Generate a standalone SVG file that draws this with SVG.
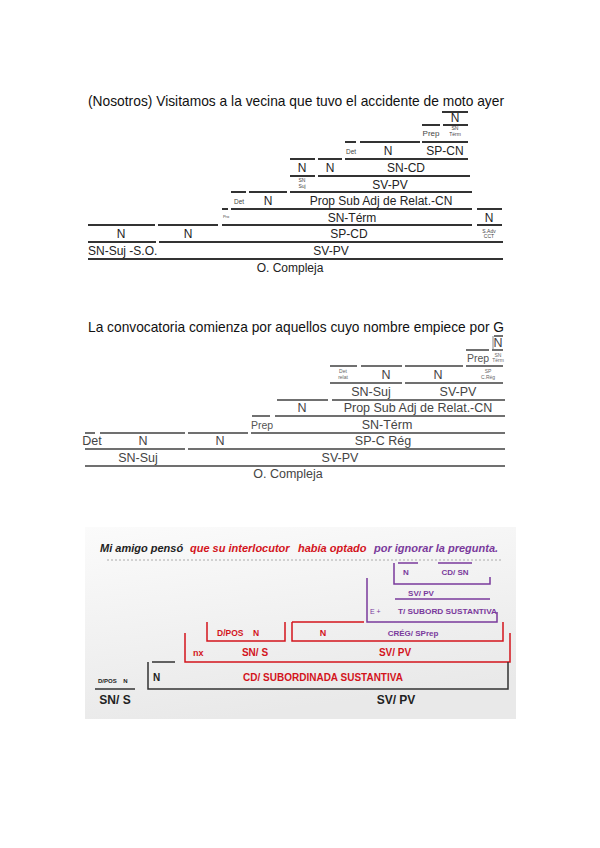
<svg xmlns="http://www.w3.org/2000/svg" width="600" height="848" viewBox="0 0 600 848">
<defs>
<linearGradient id="bg3" x1="0" y1="0" x2="0.3" y2="1">
<stop offset="0" stop-color="#fbfbfb"/>
<stop offset="1" stop-color="#e9e9e9"/>
</linearGradient>
<style>
text{font-family:"Liberation Sans",Arial,sans-serif}
.ti{font-size:15px;fill:#111}
.l1{font-size:12px;fill:#222;text-anchor:middle}
.s1{font-size:8px;fill:#444;text-anchor:middle}
.x1{font-size:5px;fill:#444;text-anchor:middle}
.l2{font-size:12.5px;fill:#444;text-anchor:middle}
.s2{font-size:10.5px;fill:#555;text-anchor:middle}
.x2{font-size:5px;fill:#666;text-anchor:middle}
.k1{stroke:#333;stroke-width:2;fill:none}
.k2{stroke:#707070;stroke-width:2;fill:none}
.t3{font-size:11px;font-weight:bold;font-style:italic}
.b3{font-weight:bold}
.red{fill:#d3141c}
.pur{fill:#7a3a9c}
.blk{fill:#222}
.rl{stroke:#d3141c;stroke-width:1.5;fill:none}
.pl{stroke:#7a3a9c;stroke-width:1.5;fill:none}
.dl{stroke:#333;stroke-width:1.5;fill:none}
</style>
</defs>
<rect width="600" height="848" fill="#fff"/>

<!-- Panel 1 -->
<g id="panel1">
<text class="ti" x="88" y="106" textLength="416" lengthAdjust="spacingAndGlyphs">(Nosotros) Visitamos a la vecina que tuvo el accidente de moto ayer</text>
<g id="p1-connectors">
<path class="k1" d="M442 112H468 M422 125H440 M443 125H468 M345 142H356 M360 142H420 M422 142H468 M290 159H315 M318 159H342 M345 159H468 M290 176H315 M318 176H470 M231 192H246 M249 192H287 M290 192H472 M222 209H228 M231 209H472 M477 209H502 M88 225H155 M158 225H218 M222 225H472 M477 225H502 M88 242H156 M159 242H503 M88 259H503"/>
</g>
<g id="p1-r1"><text class="l1" x="455" y="122">N</text></g>
<g id="p1-r2"><text class="s1" x="431" y="136">Prep</text><text class="x1" x="455" y="130">SN</text><text class="x1" x="455" y="136">Térm</text></g>
<g id="p1-r3"><text class="s1" x="351" y="154" style="font-size:6.5px">Det</text><text class="l1" x="388" y="155">N</text><text class="l1" x="445" y="155">SP-CN</text></g>
<g id="p1-r4"><text class="l1" x="302" y="172">N</text><text class="l1" x="330" y="172">N</text><text class="l1" x="406" y="172">SN-CD</text></g>
<g id="p1-r5"><text class="x1" x="302" y="182">SN</text><text class="x1" x="302" y="188">Suj</text><text class="l1" x="390" y="189">SV-PV</text></g>
<g id="p1-r6"><text class="s1" x="239" y="204" style="font-size:6.5px">Det</text><text class="l1" x="268" y="205">N</text><text class="l1" x="381" y="205">Prop Sub Adj de Relat.-CN</text></g>
<g id="p1-r7"><text class="x1" x="226" y="218" style="font-size:4px">Pro</text><text class="l1" x="352" y="222">SN-Térm</text><text class="l1" x="489" y="222">N</text></g>
<g id="p1-r8"><text class="l1" x="121" y="238">N</text><text class="l1" x="188" y="238">N</text><text class="l1" x="349" y="238">SP-CD</text><text class="x1" x="489" y="233">S.Adv</text><text class="x1" x="489" y="238">CCT</text></g>
<g id="p1-r9"><text class="l1" x="88" y="255" style="text-anchor:start">SN-Suj -S.O.</text><text class="l1" x="331" y="255">SV-PV</text></g>
<g id="p1-r10"><text class="l1" x="290" y="272">O. Compleja</text></g>
</g>

<!-- Panel 2 -->
<g id="panel2">
<text class="ti" x="88" y="332" textLength="416" lengthAdjust="spacingAndGlyphs">La convocatoria comienza por aquellos cuyo nombre empiece por G</text>
<g id="p2-connectors">
<path class="k2" d="M494 336H503 M466 350H489 M492 350H503 M330 366H357 M361 366H402 M405 366H463 M466 366H503 M330 383H402 M405 383H503 M277 400H328 M332 400H505 M252 416H270 M275 416H505 M85 433H95 M100 433H185 M188 433H248 M251 433H505 M85 449H185 M188 449H505 M85 466H505"/>
<path d="M493 336V349" stroke="#888" stroke-width="1" fill="none"/>
</g>
<g id="p2-r1"><text class="l2" x="498" y="347">N</text></g>
<g id="p2-r2"><text class="s2" x="478" y="362">Prep</text><text class="x2" x="498" y="357">SN</text><text class="x2" x="498" y="362">Térm</text></g>
<g id="p2-r3"><text class="x2" x="343" y="373">Det</text><text class="x2" x="343" y="379">relat</text><text class="l2" x="386" y="379">N</text><text class="l2" x="438" y="379">N</text><text class="x2" x="488" y="373">SP</text><text class="x2" x="488" y="379">C.Rég</text></g>
<g id="p2-r4"><text class="l2" x="371" y="396">SN-Suj</text><text class="l2" x="458" y="396">SV-PV</text></g>
<g id="p2-r5"><text class="l2" x="302" y="412">N</text><text class="l2" x="418" y="412">Prop Sub Adj de Relat.-CN</text></g>
<g id="p2-r6"><text class="s2" x="262" y="429">Prep</text><text class="l2" x="387" y="429">SN-Térm</text></g>
<g id="p2-r7"><text class="l2" x="92" y="445">Det</text><text class="l2" x="143" y="445">N</text><text class="l2" x="220" y="445">N</text><text class="l2" x="383" y="445">SP-C Rég</text></g>
<g id="p2-r8"><text class="l2" x="138" y="462">SN-Suj</text><text class="l2" x="340" y="462">SV-PV</text></g>
<g id="p2-r9"><text class="l2" x="288" y="478">O. Compleja</text></g>
</g>

<!-- Panel 3 -->
<g id="panel3">
<rect x="85" y="527" width="431" height="192" fill="url(#bg3)"/>
<g id="p3-title">
<text class="t3 blk" x="100" y="552">Mi amigo pensó</text>
<text class="t3 red" x="190" y="552">que su interlocutor</text>
<text class="t3 red" x="298" y="552">había optado</text>
<text class="t3 pur" x="374" y="552">por ignorar la pregunta.</text>
<path d="M107 560H503" stroke="#aaa" stroke-width="1" stroke-dasharray="2 2"/>
</g>
<g id="p3-connectors">
<path class="pl" d="M398 563H418 M438 563H472 M394 563V584H490V577 M395 599H490 M367 578V622H497V612"/>
<path class="rl" d="M207 622V641H285V622 M292 622H364 M292 622V641H503V622 M185 633V662H510V633"/>
<path class="dl" d="M152 662H175 M148 662V689H508V662 M95 689H135"/>
</g>
<g id="p3-purple">
<text class="b3 pur" x="403" y="575" style="font-size:8px">N</text>
<text class="b3 pur" x="455" y="575" style="font-size:8px;text-anchor:middle">CD/ SN</text>
<text class="b3 pur" x="421" y="596" style="font-size:8px;text-anchor:middle">SV/ PV</text>
<text class="pur" x="370" y="614" style="font-size:7px">E +</text>
<text class="b3 pur" x="398" y="614" style="font-size:7px" textLength="99" lengthAdjust="spacingAndGlyphs">T/ SUBORD SUSTANTIVA</text>
<text class="b3 pur" x="413" y="636" style="font-size:8px;text-anchor:middle">CRÉG/ SPrep</text>
</g>
<g id="p3-red">
<text class="b3 red" x="217" y="636" style="font-size:8.5px" xml:space="preserve">D/POS    N</text>
<text class="b3 red" x="323" y="636" style="font-size:9px;text-anchor:middle">N</text>
<text class="b3 red" x="193" y="656" style="font-size:9px">nx</text>
<text class="b3 red" x="255" y="656" style="font-size:10px;text-anchor:middle">SN/ S</text>
<text class="b3 red" x="395" y="656" style="font-size:10px;text-anchor:middle">SV/ PV</text>
<text class="b3 red" x="323" y="681" style="font-size:10px;text-anchor:middle">CD/ SUBORDINADA SUSTANTIVA</text>
</g>
<g id="p3-black">
<text class="b3 blk" x="153" y="681" style="font-size:10px">N</text>
<text class="b3 blk" x="98" y="683" style="font-size:6px" xml:space="preserve">D/POS    N</text>
<text class="b3 blk" x="115" y="704" style="font-size:12px;text-anchor:middle">SN/ S</text>
<text class="b3 blk" x="396" y="704" style="font-size:12px;text-anchor:middle">SV/ PV</text>
</g>
</g>
</svg>
